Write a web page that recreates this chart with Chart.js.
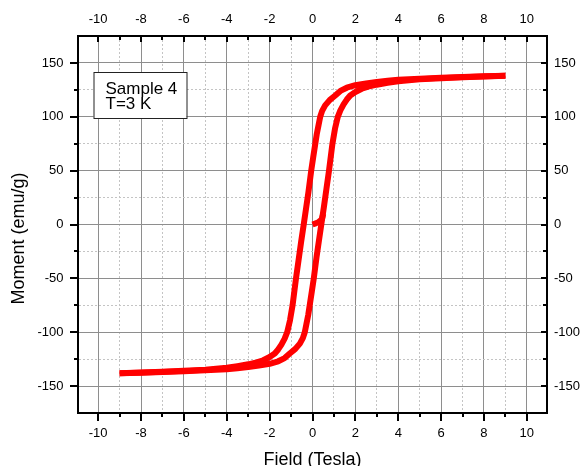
<!DOCTYPE html>
<html>
<head>
<meta charset="utf-8">
<script src="https://cdn.jsdelivr.net/npm/chart.js@4/dist/chart.umd.min.js"></script>
<style>
  html, body { margin: 0; padding: 0; background: #fff; }
  #wrap { width: 586px; height: 466px; }
</style>
</head>
<body>
<div id="wrap"><canvas id="loop" width="586" height="466"></canvas></div>
<script>
// Hysteresis loop, field in tesla, moment in emu/g
const fieldDown = [9, 8, 7, 6, 5, 4, 3.5, 3, 2.5, 2, 1.6, 1.3, 1.06, 0.8, 0.59, 0.45, 0.36, 0.28, 0.2, 0.13, 0.03,
  -0.06, -0.19, -0.3, -0.41, -0.53, -0.65, -0.77, -0.93, -1.05, -1.18, -1.3, -1.45, -1.6, -1.76, -2, -2.3, -2.6,
  -3, -3.5, -4, -5, -6, -7, -8, -9];
const momentDown = [138.2, 137.6, 137, 136.2, 135.4, 134.3, 133.4, 132.4, 131, 129.3, 127, 124, 119.8, 115.5, 110.6,
  105.5, 100, 92, 84, 75, 62, 50, 30, 15, 0, -16, -33, -50, -75, -89, -100, -106, -111.5, -116, -119.8, -123, -126,
  -128, -129.8, -131.5, -133, -134.8, -135.8, -136.8, -137.5, -138.2];

const fieldUp = [-9, -8, -7, -6, -5, -4, -3.5, -3, -2.5, -2, -1.6, -1.3, -1.06, -0.8, -0.59, -0.45, -0.36, -0.28, -0.2,
  -0.13, -0.03, 0.06, 0.19, 0.3, 0.41, 0.53, 0.65, 0.77, 0.93, 1.05, 1.18, 1.3, 1.45, 1.6, 1.76, 2, 2.3, 2.6, 3, 3.5,
  4, 5, 6, 7, 8, 9];
const momentUp = [-138.2, -137.6, -137, -136.2, -135.4, -134.3, -133.4, -132.4, -131, -129.3, -127, -124, -119.8,
  -115.5, -110.6, -105.5, -100, -92, -84, -75, -62, -50, -30, -15, 0, 16, 33, 50, 75, 89, 100, 106, 111.5, 116, 119.8,
  123, 126, 128, 129.8, 131.5, 133, 134.8, 135.8, 136.8, 137.5, 138.2];

// initial magnetisation from the demagnetised state
const fieldVirgin = [0, 0.15, 0.3, 0.44, 0.5];
const momentVirgin = [0, 1, 2.5, 5, 10];

const fieldTicks = [-10, -9, -8, -7, -6, -5, -4, -3, -2, -1, 0, 1, 2, 3, 4, 5, 6, 7, 8, 9, 10];
const momentTicks = [-150, -125, -100, -75, -50, -25, 0, 25, 50, 75, 100, 125, 150];

const X_MIN = -10.94, X_MAX = 10.94;
const Y_MIN = -175, Y_MAX = 175;

const sampleLabel = ['Sample 4', 'T=3 K'];
const yTitle = 'Moment (emu/g)';

Chart.defaults.font.family = "'Liberation Sans', Arial, sans-serif";
Chart.defaults.color = '#000';

function pts(xs, ys) {
    return xs.map((x, i) => ({ x: x, y: ys[i] }));
}

const isMajorX = v => v % 2 === 0;
const isMajorY = v => v % 50 === 0;

function gridOpts(isMajor) {
    return {
        drawTicks: false,
        lineWidth: 1,
        color: c => (c.tick && !isMajor(c.tick.value)) ? '#c4c4c4' : '#8e8e8e'
    };
}

function borderOpts(isMajor) {
    return {
        color: '#000',
        width: 2,
        dash: c => (c.tick && !isMajor(c.tick.value)) ? [2, 2] : []
    };
}

const tickFont = { size: 13 };

// short/long tick marks: outward on left & bottom, inward on top & right
const tickMarks = {
    id: 'tickMarks',
    afterDraw(chart) {
        const { ctx, chartArea: a, scales } = chart;
        ctx.save();
        ctx.strokeStyle = '#000';
        ctx.lineWidth = 2;
        ctx.beginPath();
        fieldTicks.forEach(v => {
            const px = Math.round(scales.x.getPixelForValue(v));
            const big = isMajorX(v);
            ctx.moveTo(px, a.bottom);
            ctx.lineTo(px, a.bottom + (big ? 8 : 4));
            ctx.moveTo(px, a.top);
            ctx.lineTo(px, a.top + (big ? 6 : 4));
        });
        momentTicks.forEach(v => {
            const py = Math.round(scales.y.getPixelForValue(v));
            const big = isMajorY(v);
            ctx.moveTo(a.left, py);
            ctx.lineTo(a.left - (big ? 8 : 4), py);
            ctx.moveTo(a.right, py);
            ctx.lineTo(a.right - (big ? 6 : 4), py);
        });
        ctx.stroke();
        ctx.restore();
    }
};

// y-axis title, set a little below the middle of the axis
const yAxisTitle = {
    id: 'yAxisTitle',
    afterDraw(chart) {
        const { ctx, chartArea: a } = chart;
        ctx.save();
        ctx.translate(19, (a.top + a.bottom) / 2 + 14);
        ctx.rotate(-Math.PI / 2);
        ctx.fillStyle = '#000';
        ctx.font = "18px 'Liberation Sans', Arial, sans-serif";
        ctx.textAlign = 'center';
        ctx.textBaseline = 'middle';
        ctx.fillText(yTitle, 0, 0);
        ctx.restore();
    }
};

// boxed sample label in the upper left corner
const sampleBox = {
    id: 'sampleBox',
    afterDraw(chart) {
        const { ctx, chartArea: a } = chart;
        const x = a.left + 15.5, y = a.top + 36;
        ctx.save();
        ctx.fillStyle = '#fff';
        ctx.fillRect(x, y, 93, 46);
        ctx.strokeStyle = '#222';
        ctx.lineWidth = 1;
        ctx.strokeRect(x + 0.5, y + 0.5, 93, 46);
        ctx.fillStyle = '#000';
        ctx.font = "17px 'Liberation Sans', Arial, sans-serif";
        ctx.textBaseline = 'alphabetic';
        ctx.fillText(sampleLabel[0], x + 12, y + 21.5);
        ctx.fillText(sampleLabel[1], x + 12, y + 37);
        ctx.restore();
    }
};

const lineStyle = {
    showLine: true,
    borderColor: '#ff0000',
    backgroundColor: '#ff0000',
    borderWidth: 6,
    borderJoinStyle: 'round',
    pointRadius: 0,
    tension: 0
};

new Chart(document.getElementById('loop'), {
    type: 'scatter',
    data: {
        datasets: [
            Object.assign({ label: 'down', data: pts(fieldDown, momentDown) }, lineStyle),
            Object.assign({ label: 'up', data: pts(fieldUp, momentUp) }, lineStyle),
            Object.assign({ label: 'virgin', data: pts(fieldVirgin, momentVirgin) }, lineStyle)
        ]
    },
    options: {
        responsive: false,
        animation: false,
        devicePixelRatio: 1,
        layout: { padding: 0 },
        plugins: {
            legend: { display: false },
            tooltip: { enabled: false }
        },
        scales: {
            x: {
                type: 'linear',
                position: 'bottom',
                min: X_MIN,
                max: X_MAX,
                afterBuildTicks: s => { s.ticks = fieldTicks.map(v => ({ value: v })); },
                afterFit: s => { s.height = 53; },
                ticks: {
                    autoSkip: false,
                    maxRotation: 0,
                    padding: 12.5,
                    font: tickFont,
                    callback: v => isMajorX(v) ? String(v) : ''
                },
                grid: gridOpts(isMajorX),
                border: borderOpts(isMajorX),
                title: {
                    display: true,
                    text: 'Field (Tesla)',
                    font: { size: 18 },
                    padding: { top: 0, bottom: -4.5 }
                }
            },
            x2: {
                type: 'linear',
                position: 'top',
                min: X_MIN,
                max: X_MAX,
                afterBuildTicks: s => { s.ticks = fieldTicks.map(v => ({ value: v })); },
                afterFit: s => { s.height = 36; },
                ticks: {
                    autoSkip: false,
                    maxRotation: 0,
                    padding: 9,
                    font: tickFont,
                    callback: v => isMajorX(v) ? String(v) : ''
                },
                grid: { drawOnChartArea: false, drawTicks: false },
                border: { color: '#000', width: 2 }
            },
            y: {
                type: 'linear',
                position: 'left',
                min: Y_MIN,
                max: Y_MAX,
                afterBuildTicks: s => { s.ticks = momentTicks.map(v => ({ value: v })); },
                afterFit: s => { s.width = 78; },
                ticks: {
                    autoSkip: false,
                    padding: 14.5,
                    font: tickFont,
                    callback: v => isMajorY(v) ? String(v) : ''
                },
                grid: gridOpts(isMajorY),
                border: borderOpts(isMajorY)
            },
            y2: {
                type: 'linear',
                position: 'right',
                min: Y_MIN,
                max: Y_MAX,
                afterBuildTicks: s => { s.ticks = momentTicks.map(v => ({ value: v })); },
                afterFit: s => { s.width = 39; },
                ticks: {
                    autoSkip: false,
                    padding: 7,
                    font: tickFont,
                    callback: v => isMajorY(v) ? String(v) : ''
                },
                grid: { drawOnChartArea: false, drawTicks: false },
                border: { color: '#000', width: 2 }
            }
        }
    },
    plugins: [tickMarks, yAxisTitle, sampleBox]
});
</script>
</body>
</html>
